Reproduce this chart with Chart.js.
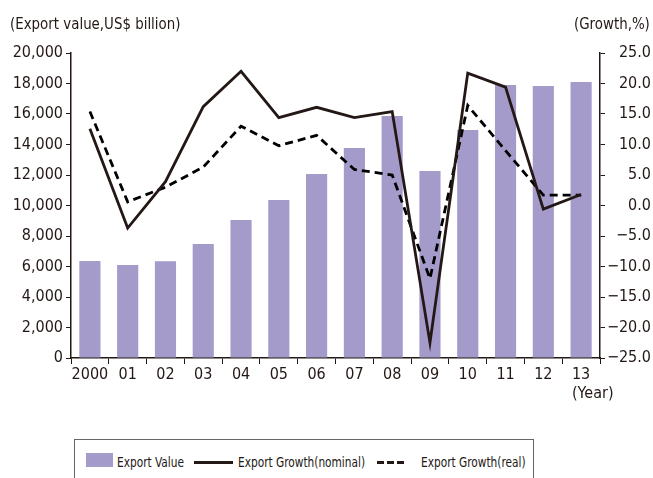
<!DOCTYPE html>
<html>
<head>
<meta charset="utf-8">
<script src="https://cdn.jsdelivr.net/npm/chart.js@4"></script>
<style>
  body { margin: 0; background: #fff; font-family: "DejaVu Sans Condensed", "Liberation Sans Narrow", sans-serif; color: #231815; }
  #wrap { position: relative; width: 653px; height: 478px; overflow: hidden; }
  #box { position: absolute; left: 0; top: 0; width: 653px; height: 410px; }
  .lbl { position: absolute; font-size: 16px; line-height: 18px; white-space: nowrap; transform-origin: left center; }
  #legend { position: absolute; left: 74px; top: 439px; width: 458px; height: 50px; border: 1px solid #666; }
  .lg { position: absolute; font-size: 14px; line-height: 16px; top: 14px; white-space: nowrap; transform: scaleX(0.84); transform-origin: left center; }
  .sw { position: absolute; background: #a59bcb; left: 11px; top: 13px; width: 27px; height: 14px; }
  .ln { position: absolute; height: 3px; background: #231815; top: 21px; }
</style>
</head>
<body>
<div id="wrap">
  <div id="box"><canvas id="exportChart"></canvas></div>
  <div class="lbl" style="left:10px;top:15px;transform:scaleX(0.93);">(Export value,US$ billion)</div>
  <div class="lbl" style="left:574px;top:15px;transform:scaleX(0.93);">(Growth,%)</div>
  <div class="lbl" style="left:572px;top:384px;">(Year)</div>
  <div id="legend">
    <div class="sw"></div>
    <div class="lg" style="left:42px;">Export Value</div>
    <div class="ln" style="left:119px;width:39px;"></div>
    <div class="lg" style="left:163px;">Export Growth(nominal)</div>
    <div class="ln" style="left:302px;width:7px;"></div>
    <div class="ln" style="left:312px;width:7px;"></div>
    <div class="ln" style="left:322px;width:7px;"></div>
    <div class="lg" style="left:346px;">Export Growth(real)</div>
  </div>
</div>
<script>
const years = ["2000", "01", "02", "03", "04", "05", "06", "07", "08", "09", "10", "11", "12", "13"];
const exportValue = [6360, 6100, 6350, 7480, 9050, 10360, 12070, 13770, 15870, 12260, 14950, 17900, 17840, 18100];
const growthNominal = [12.6, -3.7, 3.9, 16.2, 22.0, 14.4, 16.1, 14.4, 15.4, -22.5, 21.7, 19.4, -0.6, 1.8];
const growthReal = [15.4, 0.6, 3.0, 6.3, 13.0, 9.8, 11.5, 5.9, 5.0, -12.0, 16.4, 9.0, 1.7, 1.7];

const ink = "#231815";
const tickFont = { family: "'DejaVu Sans Condensed', 'Liberation Sans Narrow', sans-serif", size: 16 };

const exportChart = new Chart(document.getElementById("exportChart"), {
  type: "bar",
  data: {
    labels: years,
    datasets: [
      {
        label: "Export Growth(nominal)",
        type: "line",
        data: growthNominal,
        yAxisID: "y1",
        borderColor: ink,
        borderWidth: 2.8,
        pointRadius: 0,
        tension: 0,
        order: 1
      },
      {
        label: "Export Growth(real)",
        type: "line",
        data: growthReal,
        yAxisID: "y1",
        borderColor: "#000",
        borderWidth: 2.8,
        borderDash: [8, 5],
        pointRadius: 0,
        tension: 0,
        order: 2
      },
      {
        label: "Export Value",
        data: exportValue,
        yAxisID: "y",
        backgroundColor: "#a59bcb",
        barPercentage: 0.56,
        categoryPercentage: 1,
        order: 3
      }
    ]
  },
  options: {
    responsive: true,
    maintainAspectRatio: false,
    animation: false,
    layout: { padding: { top: 53, right: 2, left: 0, bottom: 0 } },
    plugins: { legend: { display: false }, tooltip: { enabled: false } },
    scales: {
      x: {
        afterFit: s => { s.height = 52; },
        grid: { display: true, drawOnChartArea: false, offset: true, tickLength: 6, color: ink },
        border: { color: ink, width: 1.5 },
        ticks: { font: tickFont, color: ink, padding: 1, maxRotation: 0, autoSkip: false }
      },
      y: {
        position: "left",
        min: 0,
        max: 20000,
        afterFit: s => { s.width = 71; },
        grid: { drawOnChartArea: false, tickLength: 5, color: ink },
        border: { color: ink, width: 1.5 },
        ticks: {
          stepSize: 2000,
          font: tickFont,
          color: ink,
          padding: 3,
          callback: v => v.toLocaleString("en-US")
        }
      },
      y1: {
        position: "right",
        min: -25,
        max: 25,
        afterFit: s => { s.width = 51; },
        grid: { drawOnChartArea: false, tickLength: 5, color: ink },
        border: { color: ink, width: 1.5 },
        ticks: {
          stepSize: 5,
          font: tickFont,
          color: ink,
          crossAlign: "far",
          callback: v => v.toFixed(1).replace("-", "\u2212")
        }
      }
    }
  }
});
</script>
</body>
</html>
